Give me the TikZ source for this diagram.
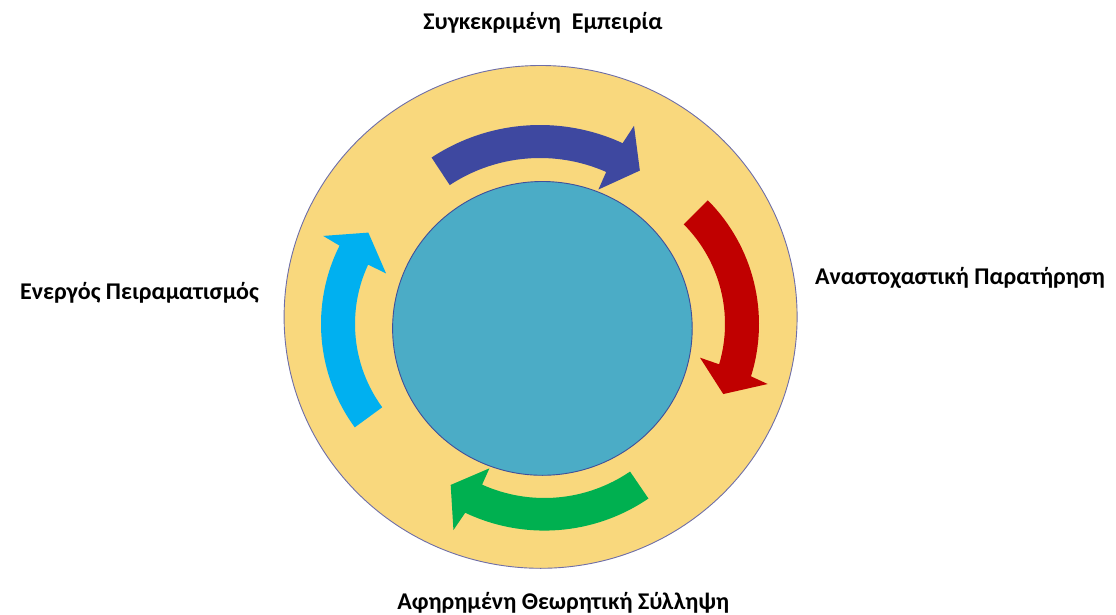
\documentclass[tikz,border=0pt]{standalone}
\usepackage{fontspec}
\setmainfont{Carlito}
\definecolor{ringfill}{HTML}{F9D87D}
\definecolor{ringline}{HTML}{6E6EA8}
\definecolor{corefill}{HTML}{4BACC6}
\definecolor{coreline}{HTML}{3F4F9A}
\definecolor{arrblue}{HTML}{3E48A0}
\definecolor{arrred}{HTML}{C00000}
\definecolor{arrcyan}{HTML}{00B0F0}
\definecolor{arrgreen}{HTML}{00B050}
\tikzset{
  lbl/.style={font=\fontsize{24}{28}\selectfont\bfseries, inner sep=0pt, anchor=base, text=black},
}
\begin{document}
\begin{tikzpicture}[x=1pt,y=1pt]
\useasboundingbox (0,0) rectangle (1116,614);
% outer ring
\filldraw[fill=ringfill, draw=ringline, line width=0.9pt] (540.6,297.1) ellipse[x radius=256.5, y radius=251.4];
% inner core
\filldraw[fill=corefill, draw=coreline, line width=0.9pt] (542.4,285.6) ellipse[x radius=149.8, y radius=146.9];
% blue arrow (top)
\fill[arrblue, shift={(540,292)}] (123.4:197) arc[start angle=123.4, end angle=65.2, radius=197]
  -- (64.4:217.6) -- (56.6:181.4) -- (66.2:144.8) -- (66.2:164)
  arc[start angle=66.2, end angle=123.4, radius=164] -- cycle;
% red arrow (right)
\fill[arrred, shift={(584,290)}] (45:175) arc[start angle=45, end angle=-17.4, radius=175]
  -- (-18.1:193.2) -- (-26.7:155.9) -- (-16.2:120.8) -- (-16.6:141)
  arc[start angle=-16.6, end angle=45, radius=141] -- cycle;
% green arrow (bottom)
\fill[arrgreen, shift={(544.4,268)}] (-55.7:184.6) arc[start angle=-55.7, end angle=-115.4, radius=184.6]
  -- (-116.3:205.3) -- (-124:167.6) -- (-114.2:134.1) -- (-114.2:152)
  arc[start angle=-114.2, end angle=-55.7, radius=152] -- cycle;
% cyan arrow (left)
\fill[arrcyan, shift={(496,290)}] (216.2:175) arc[start angle=216.2, end angle=153.4, radius=175]
  -- (153:194) -- (144.4:157) -- (155.3:121) -- (155.1:141)
  arc[start angle=155.1, end angle=216.2, radius=141] -- cycle;
% labels
\node[lbl] (ce) at (543,584) {Συγκεκριμένη\ \ Εμπειρία};
\node[lbl] (ro) at (960,329) {Αναστοχαστική Παρατήρηση};
\node[lbl] (ac) at (563.3,5) {Αφηρημένη Θεωρητική Σύλληψη};
\node[lbl] (ae) at (139.5,315) {Ενεργός Πειραματισμός};
\end{tikzpicture}
\end{document}
